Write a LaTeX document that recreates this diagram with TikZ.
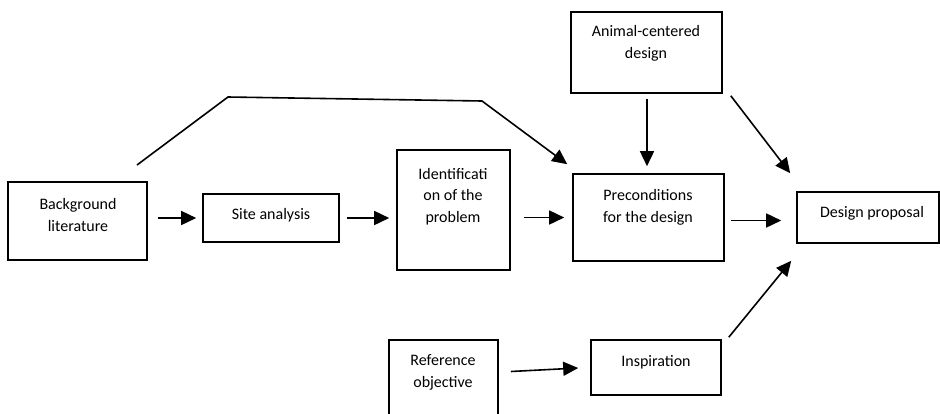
\documentclass[tikz,border=0pt]{standalone}
\usepackage{fontspec}
\setmainfont{Carlito}
\usetikzlibrary{arrows.meta,calc}
\begin{document}
\begin{tikzpicture}[x=1pt,y=-1pt,
  box/.style={draw=black,line width=1.6pt,rectangle,inner sep=0pt},
  lbl/.style={align=center,inner sep=0pt,font=\fontsize{16}{21.5}\selectfont},
  arr/.style={line width=1.6pt,-{Triangle[length=15pt,width=14pt]}}]
\useasboundingbox (0,0) rectangle (940,413);
\begin{scope}
\clip (0,0) rectangle (940,413);
% boxes
\node[box,minimum width=139pt,minimum height=78pt] (bg) at (77.5,221) {};
\node[box,minimum width=136pt,minimum height=48pt] (site) at (271,218) {};
\node[box,minimum width=113pt,minimum height=120pt] (ident) at (453.5,210) {};
\node[box,minimum width=151pt,minimum height=87pt] (pre) at (648.5,217.5) {};
\node[box,minimum width=142pt,minimum height=51pt] (design) at (868,217.5) {};
\node[box,minimum width=151pt,minimum height=81pt] (animal) at (646.5,52.5) {};
\node[box,minimum width=109pt,minimum height=75pt] (ref) at (443.5,377.5) {};
\node[box,minimum width=130pt,minimum height=55pt] (insp) at (656,367.5) {};
% labels
\node[lbl] (tbg) at (78,215) {Background\\literature};
\node[lbl] (tsite) at (271,215) {Site analysis};
\node[lbl] (tident) at (453,196.5) {Identificati\\on of the\\problem};
\node[lbl] (tpre) at (648,207.5) {Preconditions\\for the design};
\node[lbl] (tdesign) at (872,213) {Design proposal};
\node[lbl] (tanimal) at (646,43.5) {Animal-centered\\design};
\node[lbl] (tref) at (443,372.5) {Reference\\objective};
\node[lbl] (tinsp) at (656,362) {Inspiration};
% connectors
\draw[arr,shorten <=10pt,shorten >=6pt] (bg.east |- site.west) -- (site.west);
\draw[arr,shorten <=7pt,shorten >=7pt] (site.east) -- (ident.west |- site.east);
\draw[arr,shorten <=13pt,shorten >=8pt] (ident.east |- pre.west) -- (pre.west);
\draw[arr,shorten <=6pt,shorten >=15pt] ([yshift=-3pt]pre.east) -- ([yshift=-3pt]pre.east -| design.west);
\draw[arr,shorten <=5pt,shorten >=7pt] (animal.south -| 647,0) -- (pre.north -| 647,0);
\draw[arr] ($(animal.south east)+(8,2)$) -- ($(design.north west)+(-6,-18)$);
\draw[arr] ($(insp.north east)+(7,-2)$) -- ($(design.south west)+(-5,17)$);
\draw[arr] ($(ref.east)+(12,-6)$) -- ($(insp.west)+(-12,0.5)$);
\coordinate (p1) at (137,165);
\coordinate (p2) at (228,97);
\coordinate (p3) at (482,101);
\draw[arr,line join=miter] (p1) -- (p2) -- (p3) -- ($(pre.north west)+(-5,-9)$);
\end{scope}
\end{tikzpicture}
\end{document}
